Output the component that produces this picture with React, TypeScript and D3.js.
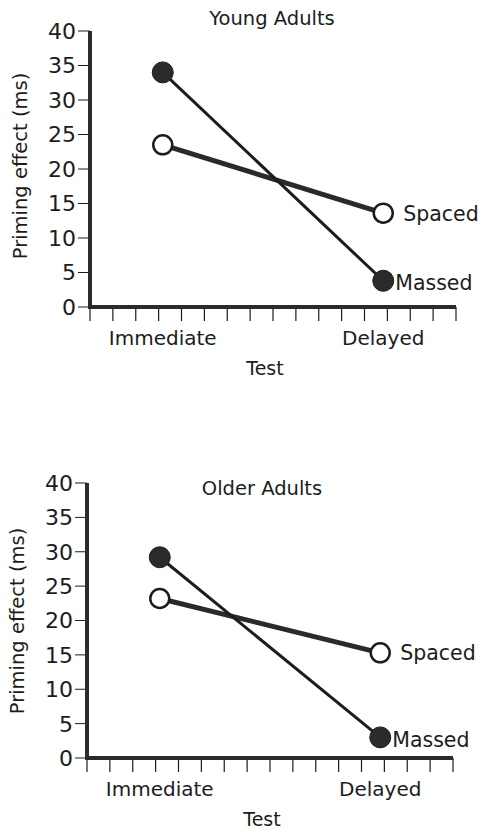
import * as d3 from 'd3';

const conditions = ['Immediate', 'Delayed'];
const yTicks = [0, 5, 10, 15, 20, 25, 30, 35, 40];
const youngMassed = [34, 3.8];
const youngSpaced = [23.5, 13.6];
const olderMassed = [29.2, 3.0];
const olderSpaced = [23.2, 15.3];

const ink = '#1c1c1c';
const font = '"DejaVu Sans", sans-serif';

interface PanelProps {
  title: string;
  massed: number[];
  spaced: number[];
  left: number;
  right: number;
  top: number;
  bottom: number;
  titleX: number;
  titleY: number;
  labelY: number;
}

const Panel = ({ title, massed, spaced, left, right, top, bottom, titleX, titleY, labelY }: PanelProps) => {
  const x = d3.scalePoint<string>().domain(conditions).range([left, right]).padding(0.33);
  const y = d3.scaleLinear().domain([0, 40]).range([bottom, top]);
  const minor = d3.scaleLinear().domain([0, 16]).range([left, right]);

  const line = d3.line<number>()
    .x((_, i) => x(conditions[i]) as number)
    .y(d => y(d));

  const last = conditions[conditions.length - 1];

  return (
    <g fontFamily={font} fill={ink}>
      <text x={titleX} y={titleY} fontSize={19.5} textAnchor="middle">{title}</text>

      {/* y axis */}
      {yTicks.map(t => (
        <g key={t}>
          <line x1={left - 12} x2={left} y1={y(t)} y2={y(t)} stroke={ink} strokeWidth={1} />
          <text x={left - 14} y={y(t)} dy="0.36em" fontSize={22} textAnchor="end">{t}</text>
        </g>
      ))}
      <text
        transform={`translate(${left - 70},${labelY}) rotate(-90)`}
        fontSize={19.5}
        textAnchor="middle"
        dy="0.35em"
      >
        Priming effect (ms)
      </text>

      {/* x axis */}
      {d3.range(17).map(i => (
        <line key={i} x1={minor(i)} x2={minor(i)} y1={bottom} y2={bottom + 14} stroke={ink} strokeWidth={1.2} />
      ))}
      <path d={`M${left},${top}V${bottom}H${right}`} fill="none" stroke="#2a2a2a" strokeWidth={4} />
      {conditions.map(c => (
        <text key={c} x={x(c)} y={bottom + 38} fontSize={20} textAnchor="middle">{c}</text>
      ))}
      <text x={(x(conditions[0])! + x(last)!) / 2 - 8} y={bottom + 68} fontSize={19} textAnchor="middle">Test</text>

      {/* series */}
      <path d={line(spaced) || ''} fill="none" stroke="#2a2a2a" strokeWidth={5} />
      <path d={line(massed) || ''} fill="none" stroke={ink} strokeWidth={3} />
      {spaced.map((v, i) => (
        <circle key={'s' + i} cx={x(conditions[i])} cy={y(v)} r={9.5} fill="#fff" stroke={ink} strokeWidth={2.5} />
      ))}
      {massed.map((v, i) => (
        <circle key={'m' + i} cx={x(conditions[i])} cy={y(v)} r={10.5} fill="#2b2b2b" stroke={ink} strokeWidth={1} />
      ))}
      <text x={x(last)! + 20} y={y(spaced[1])} dy="0.36em" fontSize={20.5}>Spaced</text>
      <text x={x(last)! + 12} y={y(massed[1])} dy="0.45em" fontSize={20.5}>Massed</text>
    </g>
  );
};

const App = () => (
  <svg width={482} height={840} style={{ position: 'absolute', left: 0, top: 0, background: '#fff' }}>
    <rect width={482} height={840} fill="#fff" />
    <Panel title="Young Adults" massed={youngMassed} spaced={youngSpaced}
      left={90} right={456} top={31} bottom={307} titleX={272} titleY={25} labelY={166} />
    <Panel title="Older Adults" massed={olderMassed} spaced={olderSpaced}
      left={87} right={453} top={483} bottom={758} titleX={262} titleY={495} labelY={621} />
  </svg>
);

export default App;
